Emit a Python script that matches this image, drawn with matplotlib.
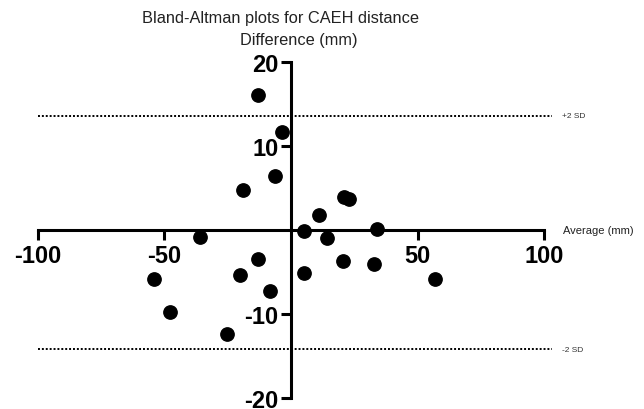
import matplotlib
matplotlib.use("Agg")
import matplotlib.pyplot as plt

plt.rcParams['font.family'] = ['Liberation Sans', 'DejaVu Sans']

average = [-13.1, -3.4, -6.3, -18.9, 20.9, 22.8, 11.2, 5.2, 34.1, 14.4, -35.8,
           -13.1, 20.4, 32.7, -20.1, 5.2, -54.2, 57.0, -8.3, -47.6, -25.2]
difference = [16.0, 11.7, 6.4, 4.8, 3.9, 3.7, 1.8, -0.1, 0.1, -1.0, -0.8,
              -3.5, -3.7, -4.0, -5.4, -5.1, -5.8, -5.8, -7.3, -9.7, -12.4]
upper_sd = 13.6
lower_sd = -14.2
x_ticks = [-100, -50, 50, 100]
y_ticks = [-20, -10, 10, 20]

W, H = 644, 410
fig = plt.figure(figsize=(W / 100, H / 100), dpi=100)
ax = fig.add_axes([37.7 / W, (H - 399.3) / H, (544.3 - 37.7) / W, (399.3 - 62.7) / H])
ax.set_xlim(-100, 100)
ax.set_ylim(-20, 20)

for s in ['top', 'right']:
    ax.spines[s].set_visible(False)
ax.spines['left'].set_position(('data', 0))
ax.spines['bottom'].set_position(('data', 0))
for s in ['left', 'bottom']:
    ax.spines[s].set_linewidth(2.2)

ax.set_xticks(x_ticks)
ax.set_yticks(y_ticks)
ax.set_xticklabels([str(t) for t in x_ticks], fontsize=17, fontweight='bold')
ax.set_yticklabels([str(t) for t in y_ticks], fontsize=17, fontweight='bold')
ax.tick_params(axis='x', direction='out', length=7, width=2.2, pad=3)
ax.tick_params(axis='y', direction='out', length=7, width=2.2, pad=2)

ax.plot([-100, 103], [upper_sd, upper_sd], linestyle=(0, (1, 1)), color='black', lw=1.4, clip_on=False)
ax.plot([-100, 103], [lower_sd, lower_sd], linestyle=(0, (1, 1)), color='black', lw=1.4, clip_on=False)
ax.text(107, upper_sd, '+2 SD', fontsize=6, va='center', ha='left', clip_on=False, color='#333333')
ax.text(107, lower_sd, '-2 SD', fontsize=6, va='center', ha='left', clip_on=False, color='#333333')
ax.text(107.3, 0, 'Average (mm)', fontsize=8, va='center', ha='left', clip_on=False, color='#222222')

ax.plot(average, difference, 'o', color='black', markersize=9.6, clip_on=False, zorder=5)

fig.text(281 / W, 1 - 19 / H, 'Bland-Altman plots for CAEH distance', fontsize=11.8,
         ha='center', va='center', color='#222222')
fig.text(299 / W, 1 - 40.5 / H, 'Difference (mm)', fontsize=11.8, ha='center', va='center',
         color='#222222')

fig.savefig('out.png', dpi=100)
